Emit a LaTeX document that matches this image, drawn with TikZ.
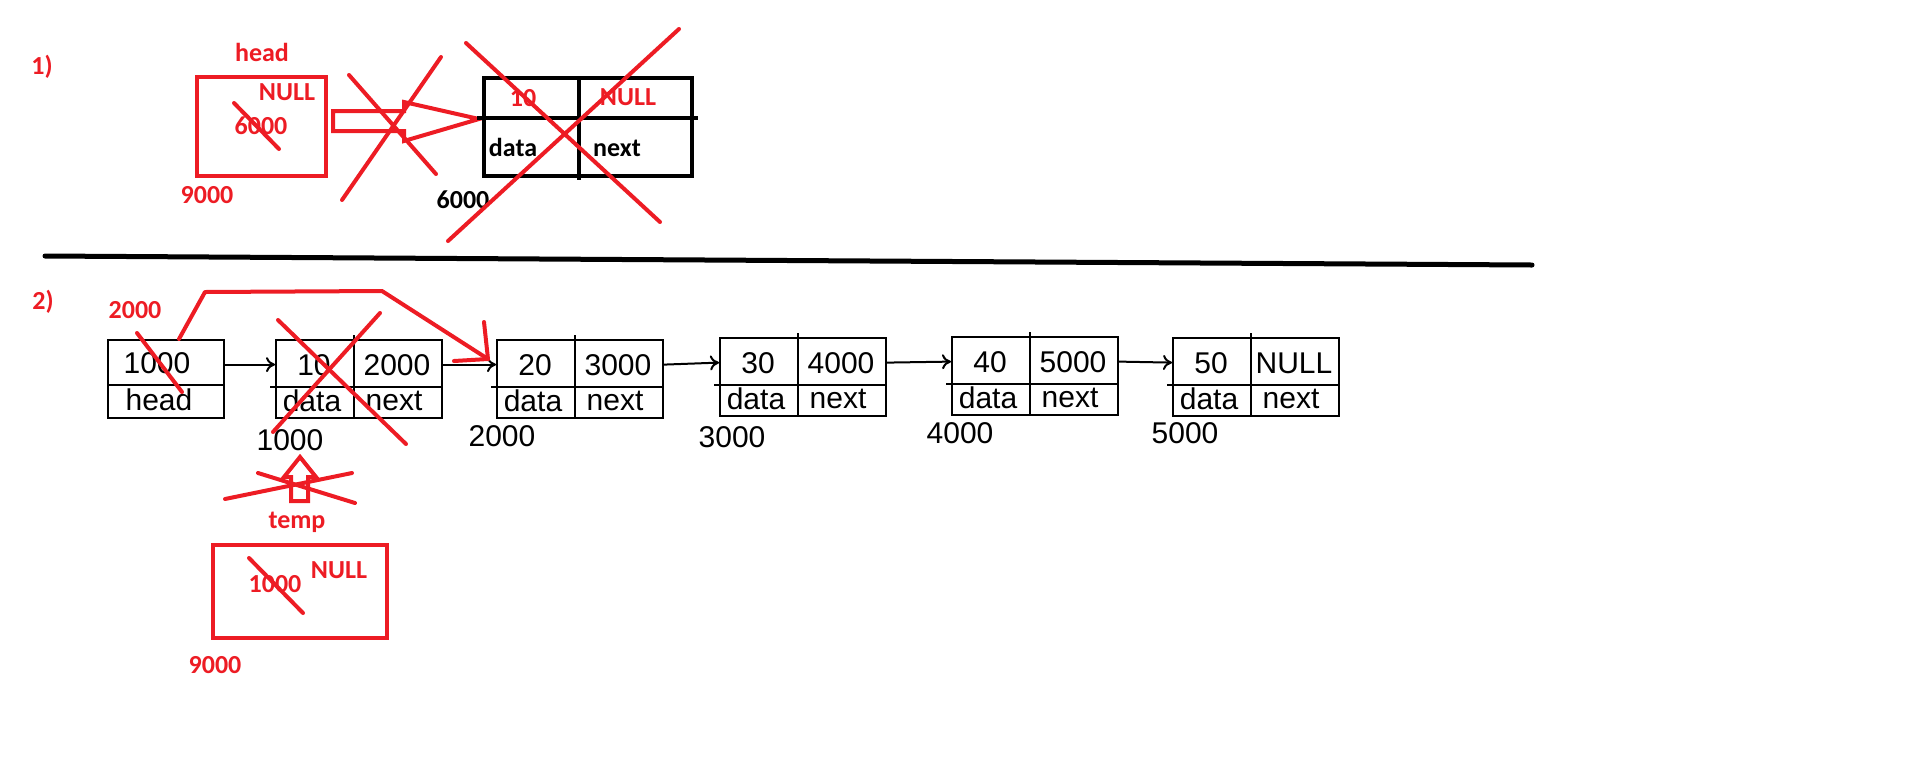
\documentclass[tikz,border=0pt]{standalone}
\usepackage{fontspec}
\setmainfont{Liberation Sans}
\newfontfamily\paintfont{Carlito}
\usetikzlibrary{arrows.meta, calc, positioning}

\definecolor{paintred}{RGB}{237,28,36}

\tikzset{
  redpen/.style={draw=paintred, line width=4pt, line cap=round},
  redtxt/.style={text=paintred, font=\paintfont\bfseries\fontsize{26}{30}\selectfont, inner sep=0pt},
  blktxt/.style={text=black, font=\paintfont\bfseries\fontsize{26}{30}\selectfont, inner sep=0pt},
  listtxt/.style={font=\fontsize{30}{36}\selectfont, inner sep=0pt},
  cellbox/.style={draw, line width=2pt, minimum width=166pt, minimum height=78pt, inner sep=0pt, anchor=north west},
  redbox/.style={draw=paintred, line width=4pt, inner sep=0pt, anchor=north west},
}

\begin{document}
\begin{tikzpicture}[x=1pt, y=-1pt, >={To[length=9pt, width=15pt]}]

  \useasboundingbox (0,0) rectangle (1910,772);

  % part 1
  \node[redtxt] (lbl1) at (42,67) {1)};

  \node[redbox, minimum width=129pt, minimum height=99pt] (hbox) at (195,75) {};
  \node[redtxt] (hname) at (262,52) {head};
  \node[redtxt] (hnull) at (287,92) {NULL};
  \node[redtxt] (hval) at (261,126) {6000};
  \node[redtxt] (haddr) at (207,195) {9000};
  \draw[redpen] (234,103) -- (279,149);

  \draw[redpen, line cap=butt, line join=miter] (333,111) -- (404,111) -- (404,102) -- (479,119) -- (404,141) -- (404,131) -- (333,131) -- cycle;
  \draw[redpen] (349,75) -- (436,174);
  \draw[redpen] (441,57) -- (342,200);

  \node[draw, line width=4pt, minimum width=208pt, minimum height=98pt, inner sep=0pt, anchor=north west] (nd) at (482,76) {};
  \draw[line width=4pt] (579,76) -- (579,180);
  \draw[line width=4pt] (477,118) -- (698,118);
  \node[redtxt] (ndval) at (523,98) {10};
  \node[redtxt] (ndnull) at (628,97) {NULL};
  \node[blktxt] (nddata) at (513,147) {data};
  \node[blktxt] (ndnext) at (617,148) {next};
  \node[blktxt] (ndaddr) at (463,200) {6000};
  \draw[redpen] (466,43) -- (660,222);
  \draw[redpen] (679,29) -- (448,241);

  \draw[line width=5pt, line cap=round] (45,256) -- (1532,265);

  % part 2
  \node[redtxt] (lbl2) at (43,302) {2)};

  \node[cellbox, minimum width=116pt] (head) at (107,339) {};
  \draw[line width=2pt] (107,385) -- (223,385);
  \node[listtxt] (headval) at (157,363) {1000};
  \node[listtxt] (headname) at (159,400) {head};
  \node[redtxt] (headnew) at (135,310) {2000};
  \draw[redpen] (137,333) -- (182,392);

  \foreach \n/\x/\y/\val/\ptr/\addr/\ax/\ay in {1/275/339/10/2000/1000/290/440, 2/496/339/20/3000/2000/502/436, 3/719/337/30/4000/3000/732/437, 4/951/336/40/5000/4000/960/433, 5/1172/337/50/NULL/5000/1185/433} {
    \node[cellbox] (n\n) at (\x,\y) {};
    \draw[line width=2pt] (\x+79,\y-4) -- (\x+79,\y+78);
    \draw[line width=2pt] (\x-5,\y+48) -- (\x+166,\y+48);
    \node[listtxt] (v\n) at (\x+39,\y+26) {\val};
    \node[listtxt] (p\n) at (\x+122,\y+26) {\ptr};
    \node[listtxt] (d\n) at (\x+37,\y+62) {data};
    \node[listtxt] (x\n) at (\x+119,\y+62) {next};
    \node[listtxt] (a\n) at (\ax,\ay) {\addr};
  }

  \foreach \a/\b in {head/n1, n1/n2, n2/n3, n3/n4, n4/n5} {
    \draw[->, line width=2pt] ($(\a.north east)!0.32!(\a.south east)$) -- ($(\b.north west)!0.32!(\b.south west)$);
  }

  % new link and removed node
  \coordinate (redtip) at (488,359);
  \draw[redpen, line join=round] ([xshift=13pt]head.north) -- (205,292) -- (382,291) -- (redtip);
  \draw[redpen] (redtip) -- (484,322);
  \draw[redpen] (redtip) -- (454,361);
  \draw[redpen] (278,320) -- (406,444);
  \draw[redpen] (380,313) -- (273,432);

  % temp
  \draw[redpen, line cap=butt, line join=miter] (291,501) -- (291,477) -- (284,477) -- (300,457) -- (316,477) -- (308,477) -- (308,501) -- cycle;
  \draw[redpen] (225,499) -- (352,473);
  \draw[redpen] (258,473) -- (355,503);

  \node[redtxt] (tname) at (297,522) {temp};
  \node[redbox, minimum width=174pt, minimum height=93pt] (tbox) at (211,543) {};
  \node[redtxt] (tnull) at (339,570) {NULL};
  \node[redtxt] (tval) at (275,584) {1000};
  \draw[redpen] (249,558) -- (303,613);
  \node[redtxt] (taddr) at (215,665) {9000};

\end{tikzpicture}
\end{document}
